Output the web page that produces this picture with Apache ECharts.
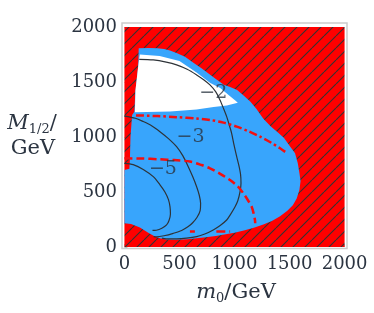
<!DOCTYPE html>
<html><head><meta charset="utf-8">
<script src="https://cdn.jsdelivr.net/npm/echarts@6/dist/echarts.min.js"></script>
<style>html,body{margin:0;padding:0;background:#fff}#c{width:374px;height:313px}</style>
</head><body><div id="c"></div>
<script>
const xTicks = [0, 500, 1000, 1500, 2000];
const yTicks = [0, 500, 1000, 1500, 2000];
const excludedDomain = [[0,0],[2000,0],[2000,2000],[0,2000]];
const allowedRegion = [
  [130,1806],[220,1808],[300,1806],[360,1800],[414,1785],[479,1762],[550,1730],[630,1672],[700,1625],
  [782,1563],[840,1520],[903,1475],[960,1455],[1024,1427],[1080,1380],[1145,1321],[1200,1255],
  [1262,1165],[1330,1095],[1400,1035],[1450,990],[1500,920],[1550,852],[1575,760],[1590,670],
  [1600,600],[1590,520],[1565,440],[1530,380],[1480,330],[1414,280],[1340,235],[1262,205],
  [1176,175],[1085,150],[1000,130],[933,118],[830,100],[720,85],[570,70],[460,66],[380,68],
  [330,76],[277,94],[216,130],[141,178],[60,208],[0,215],
  [0,700],[45,710],[50,800],[55,1000],[70,1200],[90,1230],[100,1420],[125,1640],[130,1806]
];
const whiteRegion = [
  [95,1225],[100,1420],[125,1640],[140,1750],[320,1735],[500,1690],[655,1585],[780,1490],
  [870,1445],[960,1370],[1010,1330],[1030,1310],[930,1285],[810,1272],[655,1250],[415,1232],[95,1225]
];
const contour2 = [[135,1706],[262,1700],[380,1680],[474,1655],[570,1615],[656,1564],[720,1520],[777,1473],
  [830,1410],[868,1336],[900,1260],[929,1185],[955,1100],[974,1033],[995,930],[1020,821],[1040,740],
  [1055,660],[1059,579],[1050,500],[1030,420],[1005,366],[960,290],[929,245],[870,195],[807,155],
  [730,118],[656,94],[565,80],[474,74],[380,74],[340,80]];
const contour3 = [[0,1190],[100,1170],[171,1140],[250,1100],[323,1048],[400,985],[474,912],[530,830],
  [580,730],[620,640],[656,548],[680,470],[692,397],[688,330],[660,270],[620,220],[580,185],[520,150],
  [444,124],[360,102],[293,92],[265,94]];
const contour5 = [[0,760],[80,748],[171,705],[262,639],[323,565],[368,500],[400,430],[414,366],[418,300],
  [405,240],[383,200],[340,170],[290,152],[255,150]];
const dashDotLine = [[105,1196],[300,1190],[474,1180],[650,1168],[777,1155],[900,1130],[1020,1094],
  [1130,1050],[1232,1003],[1330,950],[1414,897],[1474,855]];
const dashedLine = [[0,806],[150,804],[323,797],[450,790],[595,776],[700,745],[777,715],[870,665],
  [959,609],[1030,550],[1080,488],[1125,420],[1156,366],[1175,300],[1186,245],[1188,215]];
const dashedBottom = [[595,140],[640,140],null,[835,140],[960,140]];
const contourLabels = [['−2', 808, 1400], ['−3', 600, 1003], ['−5', 350, 705]];

function hatchPattern() {
  const p = 12;
  const c = document.createElement('canvas');
  c.width = p; c.height = p;
  const g = c.getContext('2d');
  g.fillStyle = '#ff0000'; g.fillRect(0, 0, p, p);
  g.strokeStyle = '#333333'; g.lineWidth = 1.1;
  g.beginPath();
  for (let k = -1; k <= 1; k++) { g.moveTo(k * p, p); g.lineTo(k * p + p, 0); }
  g.stroke();
  return c;
}
const hatch = { image: hatchPattern(), repeat: 'repeat' };

function polySeries(points, fill, z) {
  return {
    type: 'custom', silent: true, z: z, data: [0],
    renderItem: function (params, api) {
      return { type: 'polygon', shape: { points: points.map(p => api.coord(p)) }, style: { fill: fill } };
    }
  };
}
const txt = '#2b3441';
const serif = 'DejaVu Serif';
const richName = {
  i: { fontFamily: serif, fontStyle: 'italic', fontSize: 21, fill: txt, color: txt, lineHeight: 24, verticalAlign: 'middle' },
  s: { fontFamily: serif, fontSize: 13, fill: txt, color: txt, lineHeight: 24, verticalAlign: 'bottom' },
  n: { fontFamily: serif, fontSize: 21, fill: txt, color: txt, lineHeight: 24, verticalAlign: 'middle' }
};
const chart = echarts.init(document.getElementById('c'), null, { renderer: 'canvas' });
chart.setOption({
  animation: false,
  grid: { left: 122, right: 27, top: 23, bottom: 64.5, show: true, borderColor: '#cccccc', borderWidth: 1.5, backgroundColor: 'transparent' },
  xAxis: {
    type: 'value', min: -22, max: 2022,
    axisLine: { show: false }, splitLine: { show: false },
    axisTick: { show: true, inside: true, length: 3, customValues: xTicks, lineStyle: { color: '#bbbbbb' } },
    axisLabel: { customValues: xTicks, formatter: v => String(v), fontFamily: serif, fontSize: 18, color: txt, margin: 7 }
  },
  yAxis: {
    type: 'value', min: -14, max: 2036,
    axisLine: { show: false }, splitLine: { show: false },
    axisTick: { show: true, inside: true, length: 3, customValues: yTicks, lineStyle: { color: '#bbbbbb' } },
    axisLabel: { customValues: yTicks, formatter: v => String(v), fontFamily: serif, fontSize: 18, color: txt, margin: 5 }
  },
  graphic: [
    { type: 'text', x: 32, y: 124, style: { text: '{i|M}{s|1/2}{n|/}', align: 'center', verticalAlign: 'middle', rich: richName } },
    { type: 'text', x: 33, y: 149, style: { text: 'GeV', align: 'center', verticalAlign: 'middle', font: '21px "DejaVu Serif"', fill: txt } },
    { type: 'text', x: 236, y: 293, style: { text: '{i|m}{s|0}{n|/GeV}', align: 'center', verticalAlign: 'middle', rich: richName } }
  ],
  series: [
    polySeries(excludedDomain, hatch, 1),
    polySeries(allowedRegion, '#38a5fc', 2),
    polySeries(whiteRegion, '#ffffff', 3),
    { type: 'line', z: 4, data: contour2, smooth: 0.3, symbol: 'none', silent: true, lineStyle: { color: '#2e3338', width: 1.2 } },
    { type: 'line', z: 4, data: contour3, smooth: 0.3, symbol: 'none', silent: true, lineStyle: { color: '#2e3338', width: 1.2 } },
    { type: 'line', z: 4, data: contour5, smooth: 0.3, symbol: 'none', silent: true, lineStyle: { color: '#2e3338', width: 1.2 } },
    { type: 'line', z: 5, data: dashDotLine, smooth: 0.3, symbol: 'none', silent: true, lineStyle: { color: '#f21010', width: 2.5, type: [8, 3, 2.5, 3] } },
    { type: 'line', z: 5, data: dashedLine, smooth: 0.3, symbol: 'none', silent: true, lineStyle: { color: '#f21010', width: 2.5, type: [8, 4] } },
    { type: 'line', z: 5, data: dashedBottom, symbol: 'none', silent: true, connectNulls: false, lineStyle: { color: '#f21010', width: 2.5, type: [9, 4] } },
    { type: 'scatter', z: 6, silent: true, symbolSize: 0,
      data: contourLabels.map(d => ({ name: d[0], value: [d[1], d[2]] })),
      label: { show: true, position: 'inside', formatter: '{b}', fontFamily: serif, fontSize: 19, color: txt } }
  ]
});
</script></body></html>
